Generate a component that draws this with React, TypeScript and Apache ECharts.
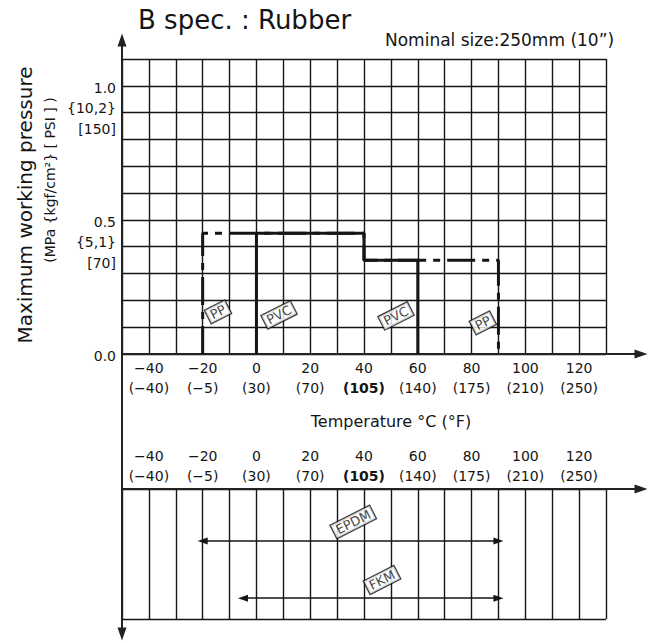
import React, { useEffect, useRef } from 'react';
import * as echarts from 'echarts';

// ---------- data ----------
const tempTicksC = [-40, -20, 0, 20, 40, 60, 80, 100, 120];
const tempTicksF = ['−40', '−5', '30', '70', '105', '140', '175', '210', '250'];
const boldTempC = 40;

const pressureTicks = [0, 0.5, 1.0];
const pressureLabels = [['0.0'], ['0.5', '{5,1}', '[70]'], ['1.0', '{10,2}', '[150]']];

// [temperature °C, pressure MPa]
const pvcLine = [[0, 0], [0, 0.45], [40, 0.45], [40, 0.35], [60, 0.35], [60, 0]];
const ppLine = [[-20, 0], [-20, 0.45], [40, 0.45], [40, 0.35], [90, 0.35], [90, 0]];

const pipeTagNames = ['PP', 'PVC', 'PVC', 'PP'];
const pipeTagAt = [[-14.3, 0.157], [8.4, 0.146], [51.9, 0.142], [84.2, 0.116]];

const rubberNames = ['EPDM', 'FKM'];
const rubberMinC = [-20, -5];
const rubberMaxC = [90, 90];
const rubberRow = [2, 4.2];
const rubberTagAt = [[36, 1.27], [46.7, 3.5]];

// ---------- layout ----------
const FONT = '"DejaVu Sans", sans-serif';
const INK = '#151515';
const L = 122;
const RIGHT = 606;
const ARROW_END = 641;
const TOP1 = 59;
const BOT1 = 354;
const TOP2 = 489;
const BOT2 = 619;

const fmtC = (v: number) => (v < 0 ? '−' + Math.abs(v) : String(v));
const tempFormatter = (v: number) => {
  const i = tempTicksC.indexOf(v);
  if (i < 0) return '';
  const style = v === boldTempC ? 'b' : 'n';
  return `{n|${fmtC(v)}}\n{${style}|(${tempTicksF[i]})}`;
};
const tempRich = {
  n: { fontSize: 14, fontFamily: FONT, lineHeight: 20, color: INK },
  b: { fontSize: 14, fontFamily: FONT, lineHeight: 20, color: INK, fontWeight: 'bold' },
};
const gridLine = { show: true, lineStyle: { color: INK, width: 1.4 } };
const tagLabel = {
  show: true,
  position: 'inside',
  formatter: '{b}',
  rotate: 27,
  fontSize: 13,
  fontFamily: FONT,
  color: INK,
  backgroundColor: '#fff',
  borderColor: INK,
  borderWidth: 1.3,
  padding: [1, 3, 0, 3],
};
const arrowLine = (symbol: string[]) => ({
  show: true,
  onZero: false,
  symbol,
  symbolSize: [9, 13],
  lineStyle: { color: '#222', width: 2 },
});

const option: any = {
  animation: false,
  backgroundColor: '#fff',
  grid: [
    { left: L, top: TOP1, width: RIGHT - L, height: BOT1 - TOP1 },
    { left: L, top: TOP1, width: ARROW_END - L, height: BOT1 - TOP1 },
    { left: L, top: 40, width: 10, height: 594 },
    { left: L, top: TOP2, width: RIGHT - L, height: BOT2 - TOP2 },
    { left: L, top: TOP2, width: ARROW_END - L, height: BOT2 - TOP2 },
  ],
  xAxis: [
    {
      gridIndex: 0, type: 'value', min: -50, max: 130, interval: 10,
      axisLine: { show: false }, axisTick: { show: false },
      splitLine: gridLine,
      axisLabel: { formatter: tempFormatter, rich: tempRich, margin: 4 },
    },
    {
      gridIndex: 1, type: 'value', min: 0, max: 1,
      axisLine: arrowLine(['none', 'triangle']),
      axisTick: { show: false }, axisLabel: { show: false }, splitLine: { show: false },
    },
    { gridIndex: 2, type: 'value', show: false },
    {
      gridIndex: 3, type: 'value', position: 'top', min: -50, max: 130, interval: 10,
      axisLine: { show: false }, axisTick: { show: false },
      splitLine: gridLine,
      axisLabel: { formatter: tempFormatter, rich: tempRich, margin: 3 },
    },
    {
      gridIndex: 4, type: 'value', position: 'top', min: 0, max: 1,
      axisLine: arrowLine(['none', 'triangle']),
      axisTick: { show: false }, axisLabel: { show: false }, splitLine: { show: false },
    },
  ],
  yAxis: [
    {
      gridIndex: 0, type: 'value', min: 0, max: 1.1, interval: 0.1,
      axisLine: { show: false }, axisTick: { show: false }, axisLabel: { show: false },
      splitLine: gridLine,
    },
    { gridIndex: 1, type: 'value', show: false },
    {
      gridIndex: 2, type: 'value', min: 0, max: 1,
      axisLine: arrowLine(['triangle', 'triangle']),
      axisTick: { show: false }, axisLabel: { show: false }, splitLine: { show: false },
    },
    {
      gridIndex: 3, type: 'value', min: 0, max: 5, interval: 5, inverse: true,
      axisLine: { show: false }, axisTick: { show: false }, axisLabel: { show: false },
      splitLine: gridLine,
    },
    { gridIndex: 4, type: 'value', show: false },
  ],
  series: [
    {
      name: 'PP', type: 'line', xAxisIndex: 0, yAxisIndex: 0, data: ppLine,
      symbol: 'none', z: 3,
      lineStyle: { color: INK, width: 3, type: [28, 7, 7, 7] },
    },
    {
      name: 'PVC', type: 'line', xAxisIndex: 0, yAxisIndex: 0, data: pvcLine,
      symbol: 'none', z: 4,
      lineStyle: { color: INK, width: 3, type: 'solid' },
    },
    {
      name: 'pipeTags', type: 'scatter', xAxisIndex: 0, yAxisIndex: 0,
      symbolSize: 0, z: 6, silent: true,
      data: pipeTagNames.map((n, i) => ({ name: n, value: pipeTagAt[i] })),
      label: tagLabel,
    },
    {
      name: 'rubber', type: 'scatter', xAxisIndex: 3, yAxisIndex: 3,
      symbolSize: 0, z: 6, silent: true,
      data: rubberNames.map((n, i) => ({ name: n, value: rubberTagAt[i] })),
      label: tagLabel,
      markLine: {
        silent: true,
        symbol: ['triangle', 'triangle'],
        symbolSize: [7, 10],
        label: { show: false },
        lineStyle: { type: 'solid', color: INK, width: 1.5 },
        data: rubberNames.map((_, i) => [
          { coord: [rubberMinC[i], rubberRow[i]] },
          { coord: [rubberMaxC[i], rubberRow[i]] },
        ]),
      },
    },
  ],
};

const txt = (text: string, x: number, y: number, size: number, align: string, extra: any = {}) => ({
  type: 'text',
  x,
  y,
  silent: true,
  ...extra,
  style: {
    text,
    fontSize: size,
    fontFamily: FONT,
    fill: INK,
    align,
    verticalAlign: 'middle',
    textAlign: align,
    textVerticalAlign: 'middle',
  },
});

export default function App() {
  const ref = useRef<HTMLDivElement>(null);
  useEffect(() => {
    if (!ref.current) return;
    const chart = echarts.init(ref.current, null, { renderer: 'svg' });
    chart.setOption(option);
    const graphics: any[] = [
      txt('B spec. : Rubber', 138, 20, 26, 'left'),
      txt('Nominal size:250mm (10”)', 385, 40, 17, 'left'),
      txt('Maximum working pressure', 25, 205, 20, 'center', { rotation: Math.PI / 2 }),
      txt('(MPa {kgf/cm²} [ PSI ] )', 50, 180, 14, 'center', { rotation: Math.PI / 2 }),
      txt('Temperature °C (°F)', 391, 421, 16, 'center'),
    ];
    pressureTicks.forEach((v, i) => {
      const py = chart.convertToPixel({ yAxisIndex: 0 }, v) as number;
      pressureLabels[i].forEach((t, j) => {
        graphics.push(txt(t, 116, py + 2 + j * 20.5, 14, 'right'));
      });
    });
    chart.setOption({ graphic: graphics });
    return () => chart.dispose();
  }, []);
  return <div ref={ref} style={{ position: 'absolute', left: 0, top: 0, width: 657, height: 643 }} />;
}
